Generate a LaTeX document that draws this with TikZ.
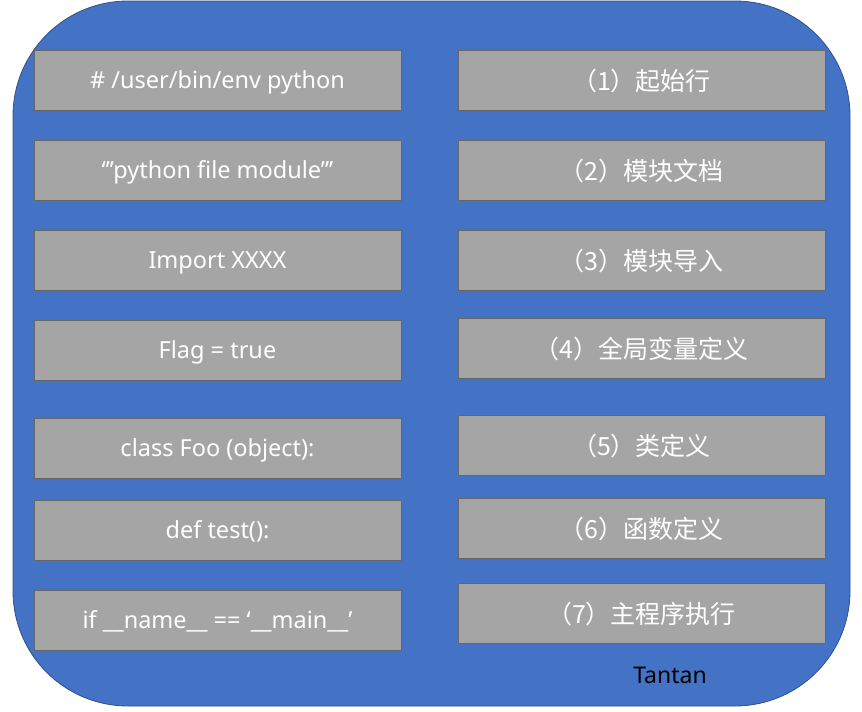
\documentclass[tikz,border=0pt]{standalone}
\usepackage{fontspec}
\setmainfont{Noto Sans}
\newfontfamily\cjkfont{Noto Sans CJK SC}
\newcommand{\zh}[1]{\raisebox{-2pt}{\cjkfont\fontsize{25}{29}\selectfont #1}}
\begin{document}
\begin{tikzpicture}[x=1pt,y=-1pt,
  box/.style={draw=gray!80!black,line width=1pt,fill=boxgray,minimum width=367pt,minimum height=60pt,inner sep=0pt,text=white,font=\fontsize{23.5}{27}\selectfont,text height=20pt,text depth=4pt},
]
\definecolor{bluebg}{HTML}{4472C4}
\definecolor{boxgray}{HTML}{A5A5A5}
\useasboundingbox (0,0) rectangle (862,712);
\draw[fill=bluebg,draw=bluebg!70!black,line width=0.8pt,rounded corners=115pt] (13,1) rectangle (850,706);
\node[box] (l1) at (217.5,80) {\# /user/bin/env python};
\node[box] (l2) at (217.5,170) {‘’’python file module’’’};
\node[box] (l3) at (217.5,260) {Import XXXX};
\node[box] (l4) at (217.5,350) {Flag = true};
\node[box] (l5) at (217.5,448) {class Foo (object):};
\node[box] (l6) at (217.5,530) {def test():};
\node[box] (l7) at (217.5,620) {if \_\_name\_\_ == ‘\_\_main\_\_’};
\node[box] (r1) at (641.5,80) {\zh{（1）起始行}};
\node[box] (r2) at (641.5,170) {\zh{（2）模块文档}};
\node[box] (r3) at (641.5,260) {\zh{（3）模块导入}};
\node[box] (r4) at (641.5,348) {\zh{（4）全局变量定义}};
\node[box] (r5) at (641.5,445) {\zh{（5）类定义}};
\node[box] (r6) at (641.5,528) {\zh{（6）函数定义}};
\node[box] (r7) at (641.5,613) {\zh{（7）主程序执行}};
\node[font=\fontsize{23}{27}\selectfont,text=black] (tag) at (670,675) {Tantan};
\end{tikzpicture}
\end{document}
